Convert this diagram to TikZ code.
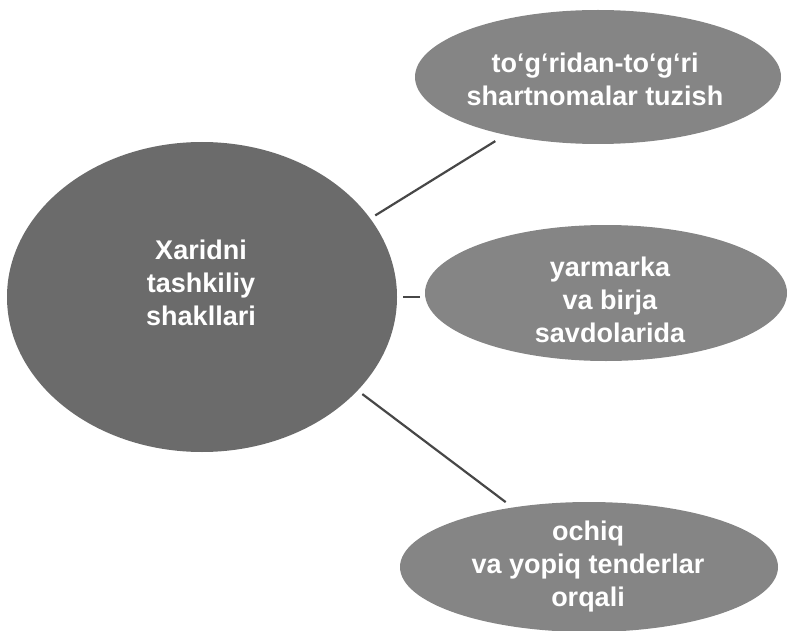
\documentclass[tikz,border=0pt]{standalone}
\usepackage{fontspec}
\setmainfont{Liberation Sans}
\usetikzlibrary{shapes.geometric}
\begin{document}
\begin{tikzpicture}[x=1pt,y=-1pt,
  blob/.style={ellipse, draw=none, inner sep=0pt, outer sep=0pt},
  bigblob/.style={blob, fill=black!58},
  smallblob/.style={blob, fill=black!48},
  lbl/.style={text=white, font=\bfseries\fontsize{27}{33}\selectfont, align=center, inner sep=0pt},
  link/.style={draw=black!72, line width=2.2pt}]
\useasboundingbox (0,0) rectangle (789,631);
% shapes
\node[bigblob, minimum width=390pt, minimum height=310pt] (main) at (202,297) {};
\node[smallblob, minimum width=366pt, minimum height=134pt] (top) at (598,77) {};
\node[smallblob, minimum width=362pt, minimum height=136pt] (mid) at (606,293) {};
\node[smallblob, minimum width=378pt, minimum height=130pt] (bot) at (589,567) {};
% texts
\node[lbl] (tmain) at (201,283) {Xaridni\\tashkiliy\\shakllari};
\node[lbl] (ttop) at (595,79) {to‘g‘ridan-to‘g‘ri\\shartnomalar tuzish};
\node[lbl] (tmid) at (610,300) {yarmarka\\va birja\\savdolarida};
\node[lbl] (tbot) at (588,567) {ochiq\\va yopiq tenderlar\\orqali};
% connectors
\draw[link, shorten <=6pt, shorten >=12pt] (main.25.4) -- (top.212.5);
\draw[link, shorten <=6pt, shorten >=5pt] (main.east) -- (main.east -| mid.west);
\draw[link, shorten <=6pt, shorten >=9pt] (main.-31.2) -- (bot.142.3);
\end{tikzpicture}
\end{document}
